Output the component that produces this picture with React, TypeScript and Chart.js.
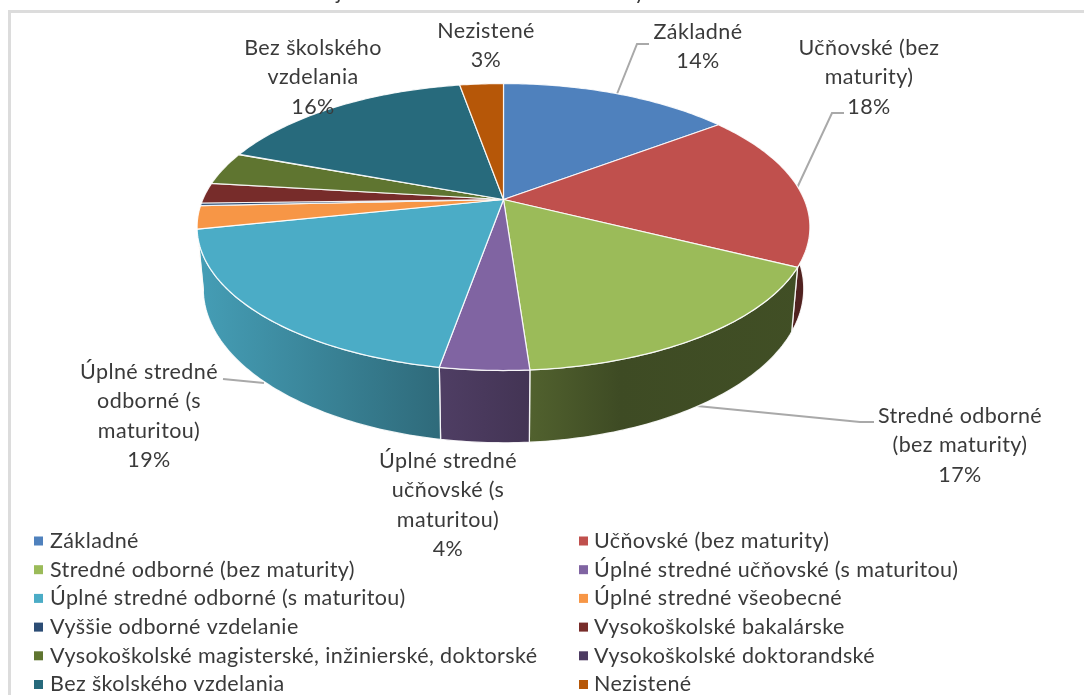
import React, { useEffect, useRef } from "react";
import { Chart, registerables } from "chart.js";

Chart.register(...registerables);

const categories = [
  "Základné",
  "Učňovské (bez maturity)",
  "Stredné odborné (bez maturity)",
  "Úplné stredné učňovské (s maturitou)",
  "Úplné stredné odborné (s maturitou)",
  "Úplné stredné všeobecné",
  "Vyššie odborné vzdelanie",
  "Vysokoškolské bakalárske",
  "Vysokoškolské magisterské, inžinierské, doktorské",
  "Vysokoškolské doktorandské",
  "Bez školského vzdelania",
  "Nezistené",
];
const values = [14.7, 17.7, 16.47, 3.9, 18.93, 2.6, 0.3, 2.3, 3.73, 0.05, 16.55, 2.77];
const colors = [
  "#4f81bd", "#c0504d", "#9bbb59", "#8064a2", "#4bacc6", "#f79646",
  "#2c4d75", "#772c2a", "#5f7530", "#4d3b62", "#276a7c", "#b65708",
];
const dataLabels: { lines: string[]; x: number; y: number }[] = [
  { lines: ["Základné", "14%"], x: 698, y: 32 },
  { lines: ["Učňovské (bez", "maturity)", "18%"], x: 869, y: 48 },
  { lines: ["Stredné odborné", "(bez maturity)", "17%"], x: 960, y: 416 },
  { lines: ["Úplné stredné", "učňovské (s", "maturitou)", "4%"], x: 448, y: 461 },
  { lines: ["Úplné stredné", "odborné (s", "maturitou)", "19%"], x: 149, y: 372 },
  { lines: ["Bez školského", "vzdelania", "16%"], x: 313, y: 48 },
  { lines: ["Nezistené", "3%"], x: 486, y: 31 },
];
const leaders: number[][][] = [
  [[617, 94], [637, 44], [649, 44]],
  [[797, 188], [832, 113], [844, 113]],
  [[697, 406], [860, 422], [874, 422]],
  [[223, 379], [264, 383]],
];

// perspective model of the pie
const K = 0.1917;
const STRETCH = 2.176;
const BOTTOM = { ax: 0.98, by: 1.075, dy: 59.5 };
const WALL_END = 2.95;
const SHADE: [number, number][] = [
  [197, 0.92], [437, 0.62], [530, 0.52], [620, 0.4], [810, 0.42],
];
const FONT = '"Lato", "Carlito", sans-serif';
const TEXT = "#3a3a3a";
const SEAM = "rgba(255,255,255,0.88)";

function shade(hex: string, f: number) {
  const n = parseInt(hex.slice(1), 16);
  const c = [(n >> 16) & 255, (n >> 8) & 255, n & 255].map((v) => Math.round(v * f));
  return `rgb(${c[0]},${c[1]},${c[2]})`;
}

const piePlugin = {
  id: "pie3d",
  beforeDraw(chart: any) {
    const { ctx } = chart;
    ctx.save();
    ctx.fillStyle = "#ffffff";
    ctx.fillRect(0, 0, chart.width, chart.height);
    ctx.fillStyle = "#dcdcdc";
    ctx.fillRect(8, 10, chart.width - 8, 3);
    ctx.fillRect(8, 10, 3, chart.height - 10);
    ctx.strokeStyle = "#a9a9a9";
    ctx.lineWidth = 2;
    for (const pts of leaders) {
      ctx.beginPath();
      pts.forEach((p, i) => (i ? ctx.lineTo(p[0], p[1]) : ctx.moveTo(p[0], p[1])));
      ctx.stroke();
    }
    ctx.restore();
  },
  beforeDatasetDraw(chart: any) {
    const { ctx } = chart;
    const els = chart.getDatasetMeta(0).data as any[];
    const cx = els[0].x;
    const cy = els[0].y;
    const R = els[0].outerRadius;
    const A = R * STRETCH;
    const project = (t: number, low: boolean): [number, number] => {
      const u = Math.cos(t);
      const v = Math.sin(t);
      const w = 1 - K * v;
      return low
        ? [cx + (A * BOTTOM.ax * u) / w, cy + BOTTOM.dy + (R * BOTTOM.by * v) / w]
        : [cx + (A * u) / w, cy + (R * v) / w];
    };
    const arcPts = (a: number, b: number, low: boolean) => {
      const n = Math.max(2, Math.ceil(Math.abs(b - a) / 0.015));
      const out: [number, number][] = [];
      for (let i = 0; i <= n; i++) out.push(project(a + ((b - a) * i) / n, low));
      return out;
    };
    ctx.save();
    ctx.lineJoin = "round";
    // side wall
    els.forEach((el, i) => {
      const a = Math.max(el.startAngle, 0);
      const b = Math.min(el.endAngle, WALL_END);
      if (b <= a) return;
      const pts = [...arcPts(a, b, false), ...arcPts(b, a, true)];
      const x0 = SHADE[0][0];
      const x1 = SHADE[SHADE.length - 1][0];
      const g = ctx.createLinearGradient(x0, 0, x1, 0);
      SHADE.forEach(([x, f]) => g.addColorStop((x - x0) / (x1 - x0), shade(colors[i], f)));
      ctx.beginPath();
      pts.forEach((p, j) => (j ? ctx.lineTo(p[0], p[1]) : ctx.moveTo(p[0], p[1])));
      ctx.closePath();
      ctx.fillStyle = g;
      ctx.fill();
      ctx.strokeStyle = SEAM;
      ctx.lineWidth = 1.3;
      ctx.stroke();
    });
    // top face
    els.forEach((el, i) => {
      const pts = arcPts(el.startAngle, el.endAngle, false);
      ctx.beginPath();
      ctx.moveTo(cx, cy);
      pts.forEach((p) => ctx.lineTo(p[0], p[1]));
      ctx.closePath();
      ctx.fillStyle = colors[i];
      ctx.fill();
      ctx.strokeStyle = SEAM;
      ctx.lineWidth = 1.2;
      ctx.stroke();
    });
    ctx.restore();
    return false;
  },
  afterDraw(chart: any) {
    const { ctx } = chart;
    ctx.save();
    ctx.fillStyle = TEXT;
    ctx.textBaseline = "middle";
    ctx.font = `21.5px ${FONT}`;
    (ctx as any).letterSpacing = "0.4px";
    ctx.textAlign = "center";
    for (const d of dataLabels) {
      d.lines.forEach((l, i) => ctx.fillText(l, d.x, d.y + i * 29.3));
    }
    // clipped title remains at the top edge
    ctx.textBaseline = "alphabetic";
    ctx.fillText("j", 339, -1);
    ctx.fillText("y", 640, -1);
    // legend
    ctx.textAlign = "left";
    ctx.textBaseline = "middle";
    categories.forEach((l, i) => {
      const col = i % 2;
      const row = Math.floor(i / 2);
      const y = 541 + row * 28.7;
      const mx = col ? 579 : 34;
      ctx.fillStyle = colors[i];
      ctx.fillRect(mx, y - 4.5, 9, 9);
      ctx.fillStyle = TEXT;
      ctx.fillText(l, col ? 594 : 50, y);
    });
    ctx.restore();
  },
};

export default function App() {
  const ref = useRef<HTMLCanvasElement>(null);
  useEffect(() => {
    document.body.style.margin = "0";
    const chart = new Chart(ref.current!, {
      type: "pie",
      data: {
        labels: categories,
        datasets: [{ data: values, backgroundColor: colors, borderWidth: 0 }],
      },
      options: {
        responsive: false,
        animation: false,
        layout: { padding: { left: 365.3, right: 442.3, top: 61.3, bottom: 357.3 } },
        plugins: { legend: { display: false }, title: { display: false }, tooltip: { enabled: false } },
      },
      plugins: [piePlugin],
    } as any);
    return () => chart.destroy();
  }, []);
  return (
    <canvas
      ref={ref}
      width={1084}
      height={695}
      style={{ display: "block", width: 1084, height: 695, filter: "blur(0.45px)" }}
    />
  );
}
